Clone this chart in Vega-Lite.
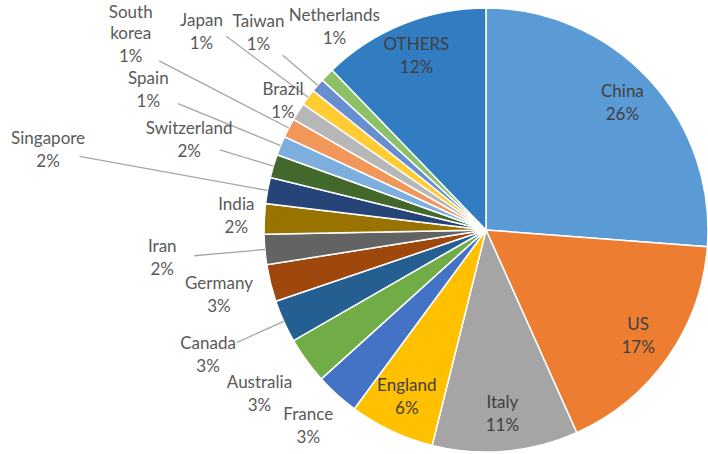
{
  "$schema": "https://vega.github.io/schema/vega-lite/v6.json",
  "width": 444,
  "height": 444,
  "autosize": {"type": "none"},
  "padding": {"left": 264, "top": 8, "right": 0, "bottom": 2},
  "background": "white",
  "config": {"view": {"stroke": null}},
  "data": {
    "values": [
      {"name": "China", "value": 0.262, "rank": 1},
      {"name": "US", "value": 0.171, "rank": 2},
      {"name": "Italy", "value": 0.106, "rank": 3},
      {"name": "England", "value": 0.062, "rank": 4},
      {"name": "France", "value": 0.032, "rank": 5},
      {"name": "Australia", "value": 0.034, "rank": 6},
      {"name": "Canada", "value": 0.031, "rank": 7},
      {"name": "Germany", "value": 0.027, "rank": 8},
      {"name": "Iran", "value": 0.022, "rank": 9},
      {"name": "India", "value": 0.022, "rank": 10},
      {"name": "Singapore", "value": 0.019, "rank": 11},
      {"name": "Switzerland", "value": 0.017, "rank": 12},
      {"name": "Spain", "value": 0.014, "rank": 13},
      {"name": "South korea", "value": 0.014, "rank": 14},
      {"name": "Brazil", "value": 0.013, "rank": 15},
      {"name": "Japan", "value": 0.012, "rank": 16},
      {"name": "Taiwan", "value": 0.010, "rank": 17},
      {"name": "Netherlands", "value": 0.010, "rank": 18},
      {"name": "OTHERS", "value": 0.122, "rank": 19}
    ]
  },
  "layer": [
    {
      "mark": {"type": "arc", "stroke": "white", "strokeWidth": 1.5},
      "encoding": {
        "theta": {"field": "value", "type": "quantitative", "stack": true, "scale": {"domain": [0, 1]}},
        "order": {"field": "rank", "type": "quantitative"},
        "radius": {"value": 222},
        "color": {
          "field": "name",
          "type": "nominal",
          "legend": null,
          "scale": {
            "domain": ["China", "US", "Italy", "England", "France", "Australia", "Canada", "Germany", "Iran", "India", "Singapore", "Switzerland", "Spain", "South korea", "Brazil", "Japan", "Taiwan", "Netherlands", "OTHERS"],
            "range": ["#5B9BD5", "#ED7D31", "#A5A5A5", "#FFC000", "#4472C4", "#70AD47", "#255E91", "#9E480E", "#636363", "#997300", "#264478", "#43682B", "#7CAFDD", "#F1975A", "#B7B7B7", "#FFCD33", "#698ED0", "#8CC168", "#327DC2"]
          }
        }
      }
    },
    {
      "transform": [
        {"window": [{"op": "sum", "field": "value", "as": "S"}], "sort": [{"field": "rank"}], "frame": [null, 0]},
        {"window": [{"op": "mean", "field": "S", "as": "mid"}], "sort": [{"field": "rank"}], "frame": [-1, 0]}
      ],
      "mark": {"type": "arc", "stroke": "#A6A6A6", "strokeWidth": 1.3, "fill": "transparent", "radiusOffset": -32},
      "encoding": {
        "theta": {"field": "mid", "type": "quantitative", "scale": {"domain": [0, 1]}},
        "theta2": {"field": "mid"},
        "radius": {"field": "name", "type": "nominal", "scale": {"type": "point", "padding": 0, "range": [240, 450], "domain": ["Brazil", "China", "India", "d3", "US", "France", "Italy", "Germany", "Australia", "England", "Netherlands", "OTHERS", "Taiwan", "Canada", "Switzerland", "d15", "d16", "Iran", "Japan", "d19", "d20", "d21", "d22", "d23", "d24", "Spain", "d26", "d27", "d28", "d29", "d30", "d31", "South korea", "d33", "d34", "d35", "d36", "d37", "d38", "d39", "d40", "Singapore", "d42"]}},
        "radius2": {"value": 222},
        "strokeOpacity": {"condition": {"test": "indexof(['Canada','Iran','Singapore','Switzerland','Spain','South korea','Taiwan'], datum.name) >= 0", "value": 1}, "value": 0}
      }
    },
    {
      "transform": [
        {"window": [{"op": "sum", "field": "value", "as": "S"}], "sort": [{"field": "rank"}], "frame": [null, 0]},
        {"window": [{"op": "mean", "field": "S", "as": "mid"}], "sort": [{"field": "rank"}], "frame": [-1, 0]}
      ],
      "mark": {"type": "arc", "stroke": "#A6A6A6", "strokeWidth": 1.3, "fill": "transparent", "radiusOffset": -6},
      "encoding": {
        "theta": {"field": "mid", "type": "quantitative", "scale": {"domain": [0, 1]}},
        "theta2": {"field": "mid"},
        "radius": {"field": "name", "type": "nominal", "scale": {"type": "point", "padding": 0, "range": [240, 450], "domain": ["Brazil", "China", "India", "d3", "US", "France", "Italy", "Germany", "Australia", "England", "Netherlands", "OTHERS", "Taiwan", "Canada", "Switzerland", "d15", "d16", "Iran", "Japan", "d19", "d20", "d21", "d22", "d23", "d24", "Spain", "d26", "d27", "d28", "d29", "d30", "d31", "South korea", "d33", "d34", "d35", "d36", "d37", "d38", "d39", "d40", "Singapore", "d42"]}},
        "radius2": {"value": 222},
        "strokeOpacity": {"condition": {"test": "datum.name === 'Japan'", "value": 1}, "value": 0}
      }
    },
    {
      "transform": [
        {"window": [{"op": "sum", "field": "value", "as": "S"}], "sort": [{"field": "rank"}], "frame": [null, 0]},
        {"window": [{"op": "mean", "field": "S", "as": "mid"}], "sort": [{"field": "rank"}], "frame": [-1, 0]}
      ],
      "mark": {"type": "text", "baseline": "bottom", "dy": -3, "color": "#595959", "font": "Lato", "fontSize": 17},
      "encoding": {
        "theta": {"field": "mid", "type": "quantitative", "scale": {"domain": [0, 1]}},
        "radius": {"field": "name", "type": "nominal", "scale": {"type": "point", "padding": 0, "range": [240, 450], "domain": ["Brazil", "China", "India", "d3", "US", "France", "Italy", "Germany", "Australia", "England", "Netherlands", "OTHERS", "Taiwan", "Canada", "Switzerland", "d15", "d16", "Iran", "Japan", "d19", "d20", "d21", "d22", "d23", "d24", "Spain", "d26", "d27", "d28", "d29", "d30", "d31", "South korea", "d33", "d34", "d35", "d36", "d37", "d38", "d39", "d40", "Singapore", "d42"]}},
        "text": {"field": "name", "type": "nominal", "condition": {"test": "indexof(['China','US','Italy','England','OTHERS','Japan','Netherlands','South korea'], datum.name) >= 0", "value": ""}}
      }
    },
    {
      "transform": [
        {"window": [{"op": "sum", "field": "value", "as": "S"}], "sort": [{"field": "rank"}], "frame": [null, 0]},
        {"window": [{"op": "mean", "field": "S", "as": "mid"}], "sort": [{"field": "rank"}], "frame": [-1, 0]}
      ],
      "mark": {"type": "text", "baseline": "bottom", "dy": -24, "lineBreak": " ", "lineHeight": 21, "color": "#595959", "font": "Lato", "fontSize": 17},
      "encoding": {
        "theta": {"field": "mid", "type": "quantitative", "scale": {"domain": [0, 1]}},
        "radius": {"field": "name", "type": "nominal", "scale": {"type": "point", "padding": 0, "range": [240, 450], "domain": ["Brazil", "China", "India", "d3", "US", "France", "Italy", "Germany", "Australia", "England", "Netherlands", "OTHERS", "Taiwan", "Canada", "Switzerland", "d15", "d16", "Iran", "Japan", "d19", "d20", "d21", "d22", "d23", "d24", "Spain", "d26", "d27", "d28", "d29", "d30", "d31", "South korea", "d33", "d34", "d35", "d36", "d37", "d38", "d39", "d40", "Singapore", "d42"]}},
        "text": {"field": "name", "type": "nominal", "condition": {"test": "datum.name !== 'South korea'", "value": ""}}
      }
    },
    {
      "transform": [
        {"window": [{"op": "sum", "field": "value", "as": "S"}], "sort": [{"field": "rank"}], "frame": [null, 0]},
        {"window": [{"op": "mean", "field": "S", "as": "mid"}], "sort": [{"field": "rank"}], "frame": [-1, 0]}
      ],
      "mark": {"type": "text", "baseline": "top", "dy": 3, "color": "#595959", "font": "Lato", "fontSize": 17},
      "encoding": {
        "theta": {"field": "mid", "type": "quantitative", "scale": {"domain": [0, 1]}},
        "radius": {"field": "name", "type": "nominal", "scale": {"type": "point", "padding": 0, "range": [240, 450], "domain": ["Brazil", "China", "India", "d3", "US", "France", "Italy", "Germany", "Australia", "England", "Netherlands", "OTHERS", "Taiwan", "Canada", "Switzerland", "d15", "d16", "Iran", "Japan", "d19", "d20", "d21", "d22", "d23", "d24", "Spain", "d26", "d27", "d28", "d29", "d30", "d31", "South korea", "d33", "d34", "d35", "d36", "d37", "d38", "d39", "d40", "Singapore", "d42"]}},
        "text": {"field": "value", "type": "quantitative", "format": ".0%", "condition": {"test": "indexof(['China','US','Italy','England','OTHERS','Japan','Netherlands'], datum.name) >= 0", "value": ""}}
      }
    },
    {
      "transform": [
        {"window": [{"op": "sum", "field": "value", "as": "S"}], "sort": [{"field": "rank"}], "frame": [null, 0]},
        {"window": [{"op": "mean", "field": "S", "as": "mid"}], "sort": [{"field": "rank"}], "frame": [-1, 0]}
      ],
      "mark": {"type": "text", "baseline": "bottom", "dy": -3, "dx": -20, "color": "#595959", "font": "Lato", "fontSize": 17},
      "encoding": {
        "theta": {"field": "mid", "type": "quantitative", "scale": {"domain": [0, 1]}},
        "radius": {"field": "name", "type": "nominal", "scale": {"type": "point", "padding": 0, "range": [240, 450], "domain": ["Brazil", "China", "India", "d3", "US", "France", "Italy", "Germany", "Australia", "England", "Netherlands", "OTHERS", "Taiwan", "Canada", "Switzerland", "d15", "d16", "Iran", "Japan", "d19", "d20", "d21", "d22", "d23", "d24", "Spain", "d26", "d27", "d28", "d29", "d30", "d31", "South korea", "d33", "d34", "d35", "d36", "d37", "d38", "d39", "d40", "Singapore", "d42"]}},
        "text": {"field": "name", "type": "nominal", "condition": {"test": "datum.name !== 'Japan'", "value": ""}}
      }
    },
    {
      "transform": [
        {"window": [{"op": "sum", "field": "value", "as": "S"}], "sort": [{"field": "rank"}], "frame": [null, 0]},
        {"window": [{"op": "mean", "field": "S", "as": "mid"}], "sort": [{"field": "rank"}], "frame": [-1, 0]}
      ],
      "mark": {"type": "text", "baseline": "top", "dy": 3, "dx": -20, "color": "#595959", "font": "Lato", "fontSize": 17},
      "encoding": {
        "theta": {"field": "mid", "type": "quantitative", "scale": {"domain": [0, 1]}},
        "radius": {"field": "name", "type": "nominal", "scale": {"type": "point", "padding": 0, "range": [240, 450], "domain": ["Brazil", "China", "India", "d3", "US", "France", "Italy", "Germany", "Australia", "England", "Netherlands", "OTHERS", "Taiwan", "Canada", "Switzerland", "d15", "d16", "Iran", "Japan", "d19", "d20", "d21", "d22", "d23", "d24", "Spain", "d26", "d27", "d28", "d29", "d30", "d31", "South korea", "d33", "d34", "d35", "d36", "d37", "d38", "d39", "d40", "Singapore", "d42"]}},
        "text": {"field": "value", "type": "quantitative", "format": ".0%", "condition": {"test": "datum.name !== 'Japan'", "value": ""}}
      }
    },
    {
      "transform": [
        {"window": [{"op": "sum", "field": "value", "as": "S"}], "sort": [{"field": "rank"}], "frame": [null, 0]},
        {"window": [{"op": "mean", "field": "S", "as": "mid"}], "sort": [{"field": "rank"}], "frame": [-1, 0]}
      ],
      "mark": {"type": "text", "baseline": "bottom", "dy": -3, "dx": 56, "color": "#595959", "font": "Lato", "fontSize": 17},
      "encoding": {
        "theta": {"field": "mid", "type": "quantitative", "scale": {"domain": [0, 1]}},
        "radius": {"field": "name", "type": "nominal", "scale": {"type": "point", "padding": 0, "range": [240, 450], "domain": ["Brazil", "China", "India", "d3", "US", "France", "Italy", "Germany", "Australia", "England", "Netherlands", "OTHERS", "Taiwan", "Canada", "Switzerland", "d15", "d16", "Iran", "Japan", "d19", "d20", "d21", "d22", "d23", "d24", "Spain", "d26", "d27", "d28", "d29", "d30", "d31", "South korea", "d33", "d34", "d35", "d36", "d37", "d38", "d39", "d40", "Singapore", "d42"]}},
        "text": {"field": "name", "type": "nominal", "condition": {"test": "datum.name !== 'Netherlands'", "value": ""}}
      }
    },
    {
      "transform": [
        {"window": [{"op": "sum", "field": "value", "as": "S"}], "sort": [{"field": "rank"}], "frame": [null, 0]},
        {"window": [{"op": "mean", "field": "S", "as": "mid"}], "sort": [{"field": "rank"}], "frame": [-1, 0]}
      ],
      "mark": {"type": "text", "baseline": "top", "dy": 3, "dx": 56, "color": "#595959", "font": "Lato", "fontSize": 17},
      "encoding": {
        "theta": {"field": "mid", "type": "quantitative", "scale": {"domain": [0, 1]}},
        "radius": {"field": "name", "type": "nominal", "scale": {"type": "point", "padding": 0, "range": [240, 450], "domain": ["Brazil", "China", "India", "d3", "US", "France", "Italy", "Germany", "Australia", "England", "Netherlands", "OTHERS", "Taiwan", "Canada", "Switzerland", "d15", "d16", "Iran", "Japan", "d19", "d20", "d21", "d22", "d23", "d24", "Spain", "d26", "d27", "d28", "d29", "d30", "d31", "South korea", "d33", "d34", "d35", "d36", "d37", "d38", "d39", "d40", "Singapore", "d42"]}},
        "text": {"field": "value", "type": "quantitative", "format": ".0%", "condition": {"test": "datum.name !== 'Netherlands'", "value": ""}}
      }
    },
    {
      "mark": {"type": "text", "baseline": "bottom", "dy": -3, "color": "#404040", "font": "Lato", "fontSize": 17},
      "encoding": {
        "theta": {"field": "value", "type": "quantitative", "stack": true, "scale": {"domain": [0, 1]}},
        "order": {"field": "rank", "type": "quantitative"},
        "detail": {"field": "name", "type": "nominal"},
        "radius": {"value": 186},
        "text": {"field": "name", "type": "nominal", "condition": {"test": "indexof(['China','US','Italy','England','OTHERS'], datum.name) < 0", "value": ""}}
      }
    },
    {
      "mark": {"type": "text", "baseline": "top", "dy": 3, "color": "#404040", "font": "Lato", "fontSize": 17},
      "encoding": {
        "theta": {"field": "value", "type": "quantitative", "stack": true, "scale": {"domain": [0, 1]}},
        "order": {"field": "rank", "type": "quantitative"},
        "detail": {"field": "name", "type": "nominal"},
        "radius": {"value": 186},
        "text": {"field": "value", "type": "quantitative", "format": ".0%", "condition": {"test": "indexof(['China','US','Italy','England','OTHERS'], datum.name) < 0", "value": ""}}
      }
    }
  ]
}
